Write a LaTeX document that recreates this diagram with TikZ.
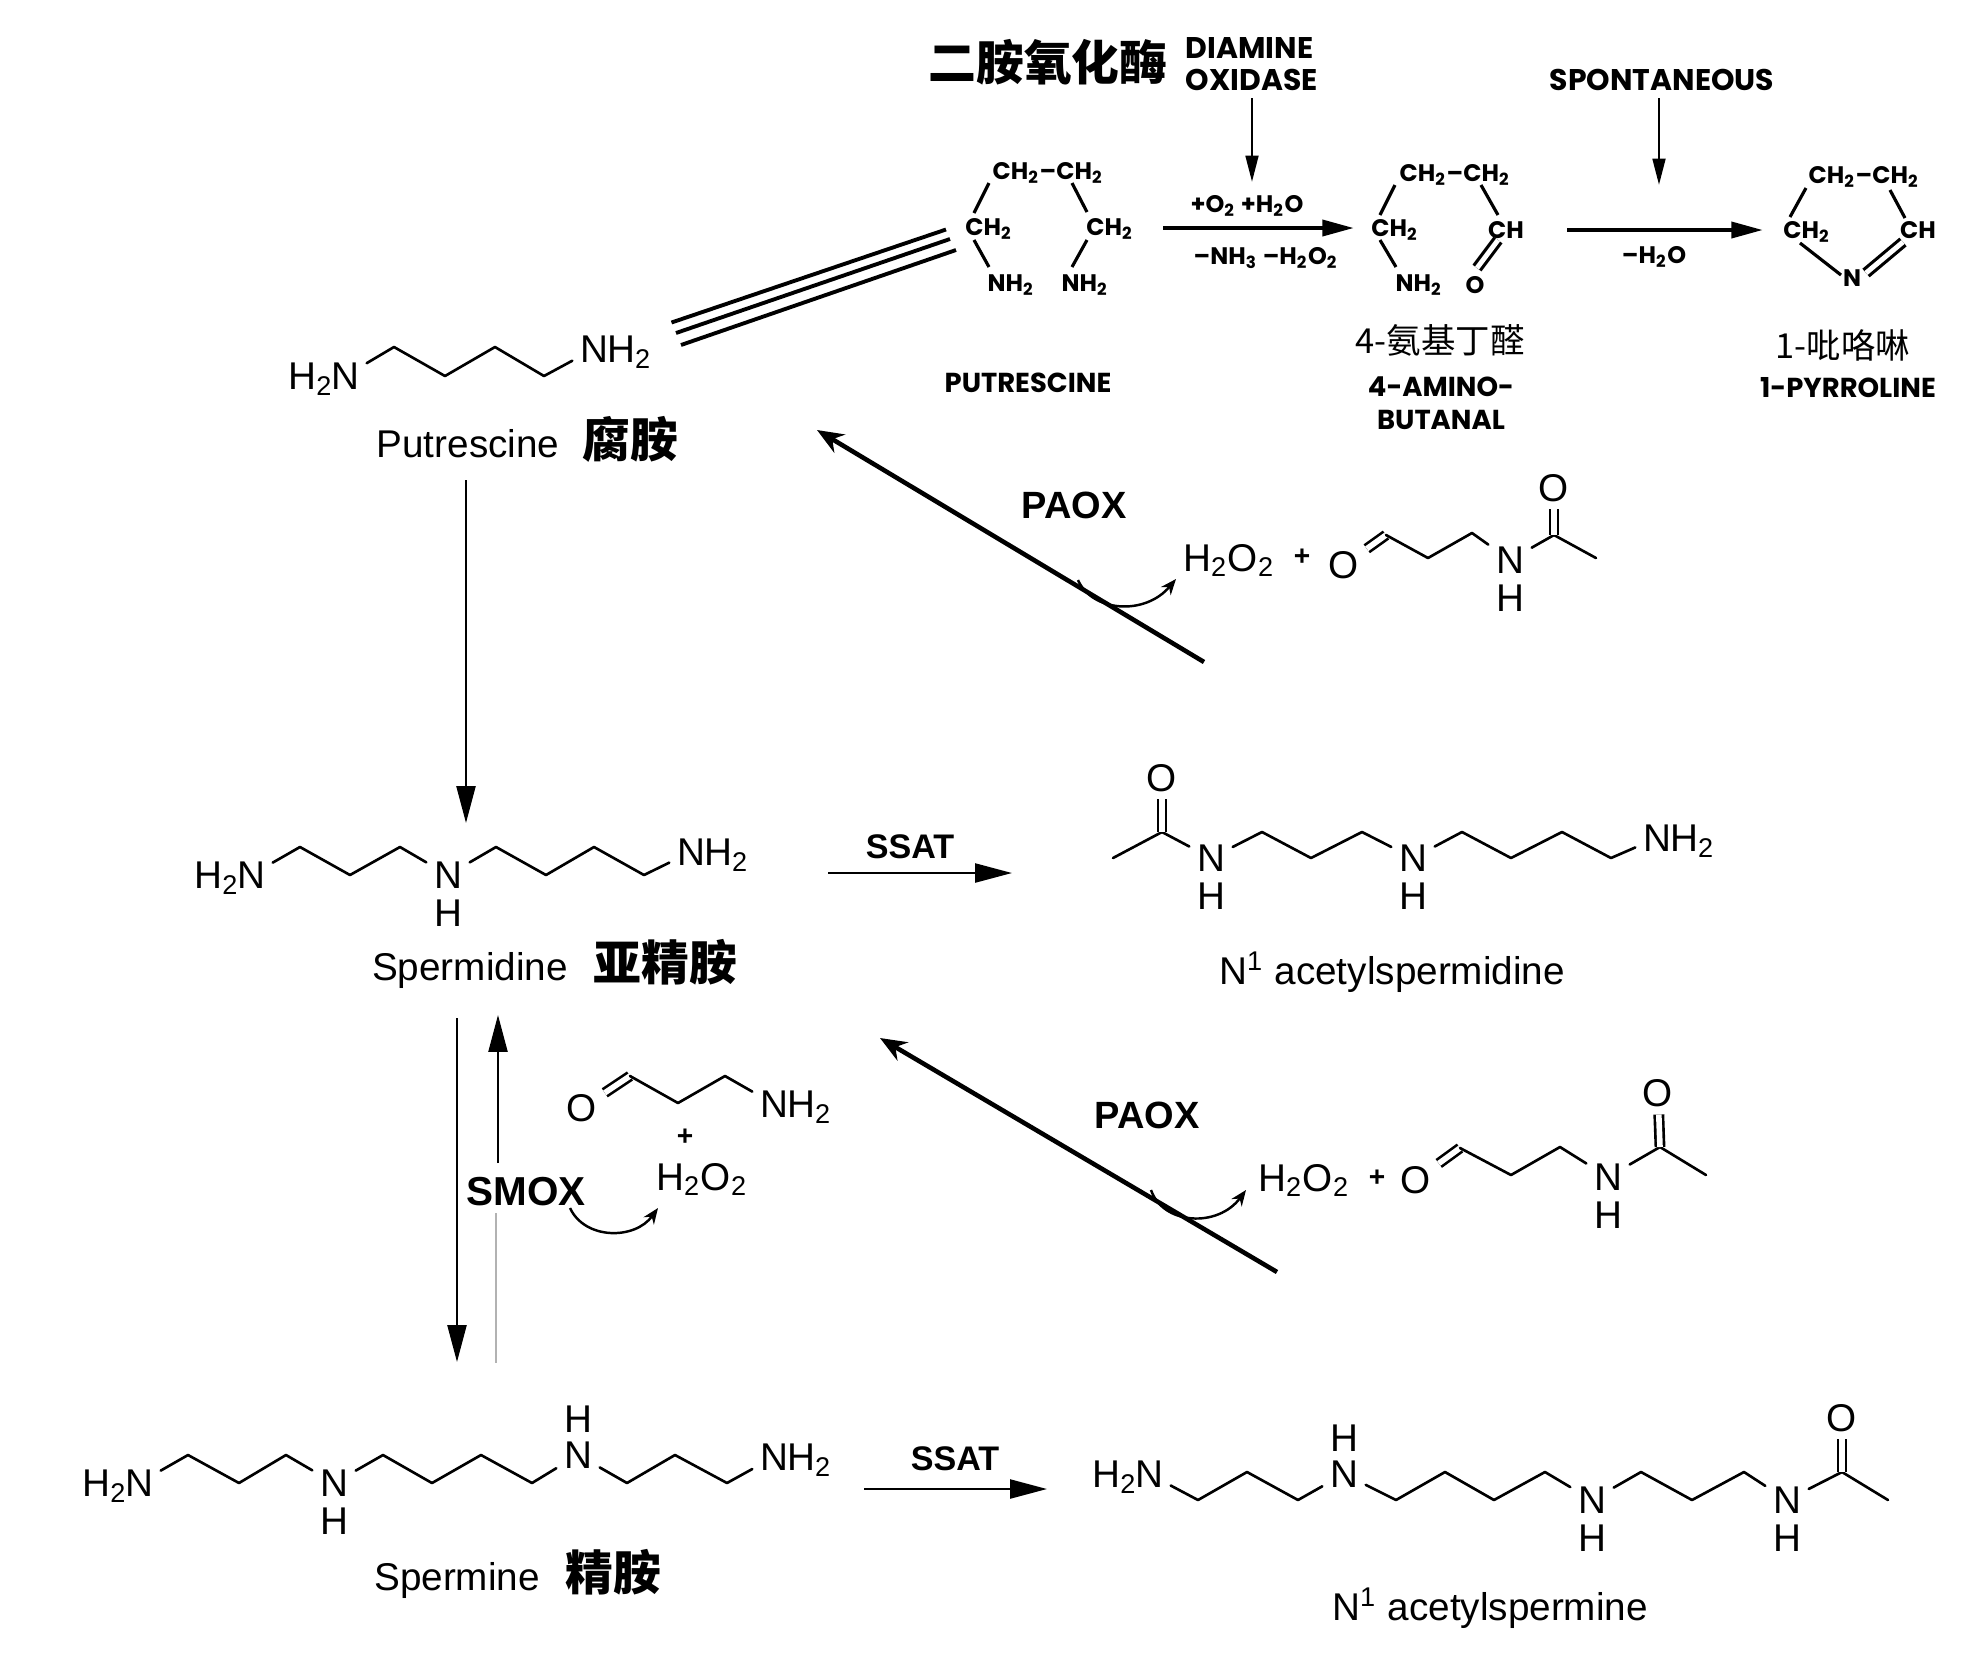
\documentclass[tikz,border=0pt]{standalone}
\usepackage{fontspec}
\setmainfont{Liberation Sans}
\newfontfamily\cjk{Noto Sans CJK SC}
\newfontfamily\oldsans{Poppins}
\usetikzlibrary{arrows.meta,positioning}

\tikzset{
  atom/.style={inner sep=2pt, font=\fontsize{11}{13}\selectfont},
  hyd/.style={inner sep=0pt, font=\fontsize{11}{13}\selectfont},
  molname/.style={inner sep=0pt, font=\fontsize{11}{13}\selectfont},
  cnname/.style={inner sep=0pt, font=\cjk\bfseries\fontsize{13.6}{16}\selectfont},
  cnsmall/.style={inner sep=0pt, font=\cjk\fontsize{9.8}{12}\selectfont},
  enzyme/.style={inner sep=0pt, font=\bfseries\fontsize{10.8}{13}\selectfont},
  plussign/.style={inner sep=0pt, font=\bfseries\fontsize{8}{9}\selectfont},
  oldcaps/.style={inner sep=0pt, font=\oldsans\bfseries\fontsize{8.5}{9.1}\selectfont},
  oldname/.style={inner sep=0pt, font=\oldsans\bfseries\fontsize{7.8}{9}\selectfont},
  oldform/.style={inner sep=0pt, font=\oldsans\bfseries\fontsize{6.8}{8}\selectfont},
  bond/.style={line width=0.75pt, line cap=round, line join=round},
  dbond/.style={line width=0.75pt, double, double distance=1.6pt},
  oldbond/.style={line width=0.9pt},
  tribond/.style={line width=1.1pt},
  rxn/.style={line width=0.65pt, -{Triangle[length=10.5pt,width=5.4pt]}},
  oxid/.style={line width=1.3pt, -{Stealth[length=7.5pt,width=6pt]}},
  push/.style={line width=0.7pt, -{Stealth[length=4.5pt,width=3.6pt]}},
  oldarrow/.style={line width=1.2pt, -{Triangle[length=9pt,width=4.5pt]}},
  olddown/.style={line width=0.8pt, -{Triangle[length=7.5pt,width=3.6pt]}},
}

\begin{document}
\begin{tikzpicture}[x=0.01cm, y=-0.01cm]
\fill[white] (0,0) rectangle (1968,1653);

% diamine oxidase route (top)
\node[cnname] (dao cn) at (1048,62) {二胺氧化酶};
\node[oldcaps, anchor=west, align=left] (dao) at (1185,64) {DIAMINE\\OXIDASE};
\node[oldcaps] (spont) at (1662,80) {SPONTANEOUS};
\coordinate (dao tip) at (1252,182);
\coordinate (spont tip) at (1659,185);
\draw[olddown, shorten <=2pt] (dao.south -| dao tip) -- (dao tip);
\draw[olddown, shorten <=2pt] (spont.south -| spont tip) -- (spont tip);

\node[oldform] (pt top) at (1048,173) {CH\textsubscript{2}–CH\textsubscript{2}};
\node[oldform] (pt cl) at (989,229) {CH\textsubscript{2}};
\node[oldform] (pt cr) at (1110,229) {CH\textsubscript{2}};
\node[oldform] (pt nl) at (1011,285) {NH\textsubscript{2}};
\node[oldform] (pt nr) at (1085,285) {NH\textsubscript{2}};
\draw[oldbond] (989,183) -- (974,213) (1072,183) -- (1087,212)
  (974,240) -- (989,267) (1087,240) -- (1072,267);
\node[oldname] (pt name) at (1028,383) {PUTRESCINE};

\coordinate (r1 a) at (1163,228);
\coordinate (r1 b) at (1354,228);
\draw[oldarrow] (r1 a) -- (r1 b);
\node[oldform] (r1 up) at (1247,206) {+O\textsubscript{2} +H\textsubscript{2}O};
\node[oldform] (r1 dn) at (1266,258) {–NH\textsubscript{3} –H\textsubscript{2}O\textsubscript{2}};

\node[oldform] (ab top) at (1455,175) {CH\textsubscript{2}–CH\textsubscript{2}};
\node[oldform] (ab cl) at (1395,230) {CH\textsubscript{2}};
\node[oldform] (ab cr) at (1506,230) {CH};
\node[oldform] (ab n) at (1419,285) {NH\textsubscript{2}};
\node[oldform] (ab o) at (1475,285) {O};
\draw[oldbond] (1395,185) -- (1380,215) (1481,185) -- (1498,215) (1380,240) -- (1396,267);
\draw[oldbond, double, double distance=1.4pt] (1498,240) -- (1477,268);
\node[cnsmall] (ab cn) at (1440,340) {4-氨基丁醛};
\node[oldname] (ab name1) at (1441,387) {4-AMINO-};
\node[oldname] (ab name2) at (1441,420) {BUTANAL};

\coordinate (r2 a) at (1567,230);
\coordinate (r2 b) at (1763,230);
\draw[oldarrow] (r2 a) -- (r2 b);
\node[oldform] (r2 dn) at (1654,257) {–H\textsubscript{2}O};

\node[oldform] (py top) at (1864,177) {CH\textsubscript{2}–CH\textsubscript{2}};
\node[oldform] (py cl) at (1807,232) {CH\textsubscript{2}};
\node[oldform] (py cr) at (1918,230) {CH};
\node[oldform] (py n) at (1852,278) {N};
\draw[oldbond] (1806,188) -- (1790,217) (1890,190) -- (1905,218) (1800,243) -- (1841,275);
\draw[oldbond, double, double distance=1.4pt] (1903,242) -- (1866,273);
\node[cnsmall] (py cn) at (1843,345) {1-吡咯啉};
\node[oldname] (py name) at (1848,388) {1-PYRROLINE};

% putrescine
\node[atom] (pu n1) at (345,376) {N};
\node[hyd, base left=-3pt of pu n1] (pu h1) {H\textsubscript{2}};
\coordinate (pu c1) at (394,347);
\coordinate (pu c2) at (445,376);
\coordinate (pu c3) at (495,347);
\coordinate (pu c4) at (544,376);
\node[atom] (pu n2) at (594,349) {N};
\node[hyd, base right=-2.6pt of pu n2] (pu h2) {H\textsubscript{2}};
\draw[bond] (pu n1) -- (pu c1) -- (pu c2) -- (pu c3) -- (pu c4) -- (pu n2);
\node[molname, anchor=base] (putr) at (468,457) {Putrescine};
\node[cnname, base right=6.3pt of putr] (putr cn) {腐胺};

\coordinate (tri a) at (676,333);
\coordinate (tri b) at (950,239);
\draw[tribond] ([shift={(-4.5,-10.5)}]tri a) -- ([shift={(-4,-9.5)}]tri b)
  (tri a) -- (tri b) ([shift={(5,12)}]tri a) -- ([shift={(6,11)}]tri b);

% spermidine
\node[atom] (sd n1) at (251,875) {N};
\node[hyd, base left=-3pt of sd n1] (sd h1) {H\textsubscript{2}};
\coordinate (sd c1) at (300,847);
\coordinate (sd c2) at (350,875);
\coordinate (sd c3) at (400,847);
\node[atom] (sd n2) at (448,875) {N};
\node[atom, below=-1.1pt of sd n2] (sd h2) {H};
\coordinate (sd c4) at (496,847);
\coordinate (sd c5) at (546,875);
\coordinate (sd c6) at (594,847);
\coordinate (sd c7) at (644,875);
\node[atom] (sd n3) at (691,852) {N};
\node[hyd, base right=-2.6pt of sd n3] (sd h3) {H\textsubscript{2}};
\draw[bond] (sd n1) -- (sd c1) -- (sd c2) -- (sd c3) -- (sd n2) -- (sd c4)
  -- (sd c5) -- (sd c6) -- (sd c7) -- (sd n3);
\node[molname, anchor=base] (spd) at (470,980) {Spermidine};
\node[cnname, base right=7pt of spd] (spd cn) {亚精胺};

\coordinate (pu out) at (466,480);
\coordinate (sd in) at (466,823);
\draw[rxn] (pu out) -- (sd in);

% N1-acetylspermidine
\coordinate (asd me) at (1113,858);
\coordinate (asd co) at (1162,832);
\node[atom] (asd o) at (1162,778) {O};
\node[atom] (asd n1) at (1211,858) {N};
\node[atom, below=-1.1pt of asd n1] (asd h1) {H};
\coordinate (asd c1) at (1262,832);
\coordinate (asd c2) at (1311,858);
\coordinate (asd c3) at (1362,832);
\node[atom] (asd n2) at (1413,858) {N};
\node[atom, below=-1.1pt of asd n2] (asd h2) {H};
\coordinate (asd c4) at (1462,832);
\coordinate (asd c5) at (1511,858);
\coordinate (asd c6) at (1562,832);
\coordinate (asd c7) at (1611,858);
\node[atom] (asd n3) at (1657,838) {N};
\node[hyd, base right=-2.6pt of asd n3] (asd h3) {H\textsubscript{2}};
\draw[bond] (asd me) -- (asd co) -- (asd n1) -- (asd c1) -- (asd c2) -- (asd c3)
  -- (asd n2) -- (asd c4) -- (asd c5) -- (asd c6) -- (asd c7) -- (asd n3);
\draw[dbond] (asd co) -- (asd o);
\node[molname, anchor=base] (acspd) at (1392,984) {N\textsuperscript{1} acetylspermidine};

\coordinate (ssat1 a) at (828,873);
\coordinate (ssat1 b) at (1012,873);
\draw[rxn] (ssat1 a) -- (ssat1 b);
\node[enzyme, anchor=base, font=\bfseries\fontsize{9.7}{12}\selectfont] (ssat1) at (910,858) {SSAT};

% PAOX, acetylspermidine -> putrescine
\coordinate (paox1 from) at (1204,662);
\coordinate (paox1 to) at (817,430);
\draw[oxid] (paox1 from) -- (paox1 to);
\node[enzyme, anchor=base] (paox1) at (1074,518) {PAOX};
\node[molname, anchor=base] (pa1 hp) at (1229,571) {H\textsubscript{2}O\textsubscript{2}};
\node[plussign] (pa1 plus) at (1302,557) {+};
\node[atom] (pa1 o) at (1344,565) {O};
\coordinate (pa1 c1) at (1386,535);
\coordinate (pa1 c2) at (1428,558);
\coordinate (pa1 c3) at (1472,533);
\node[atom] (pa1 n) at (1510,560) {N};
\node[atom, below=-1.1pt of pa1 n] (pa1 h) {H};
\coordinate (pa1 co) at (1554,535);
\node[atom] (pa1 o2) at (1554,488) {O};
\coordinate (pa1 me) at (1596,558);
\draw[dbond] (pa1 o) -- (pa1 c1);
\draw[bond] (pa1 c1) -- (pa1 c2) -- (pa1 c3) -- (pa1 n) -- (pa1 co) -- (pa1 me);
\draw[dbond] (pa1 co) -- (pa1 o2);
\coordinate (pa1 k) at (1078,580);
\coordinate (pa1 tip) at (1176,579);
\draw[push] (pa1 k) .. controls (1092,612) and (1145,616) .. (pa1 tip);

% spermine
\node[atom] (sm n1) at (139,1483) {N};
\node[hyd, base left=-3pt of sm n1] (sm h1) {H\textsubscript{2}};
\coordinate (sm c1) at (188,1455);
\coordinate (sm c2) at (239,1483);
\coordinate (sm c3) at (286,1455);
\node[atom] (sm n2) at (334,1483) {N};
\node[atom, below=-1.1pt of sm n2] (sm h2) {H};
\coordinate (sm c4) at (383,1455);
\coordinate (sm c5) at (432,1483);
\coordinate (sm c6) at (481,1455);
\coordinate (sm c7) at (532,1483);
\node[atom] (sm n3) at (578,1455) {N};
\node[atom, above=-1.9pt of sm n3] (sm h3) {H};
\coordinate (sm c8) at (627,1483);
\coordinate (sm c9) at (675,1455);
\coordinate (sm c10) at (727,1483);
\node[atom] (sm n4) at (774,1457) {N};
\node[hyd, base right=-2.6pt of sm n4] (sm h4) {H\textsubscript{2}};
\draw[bond] (sm n1) -- (sm c1) -- (sm c2) -- (sm c3) -- (sm n2) -- (sm c4) -- (sm c5)
  -- (sm c6) -- (sm c7) -- (sm n3) -- (sm c8) -- (sm c9) -- (sm c10) -- (sm n4);
\node[molname, anchor=base] (spm) at (457,1590) {Spermine};
\node[cnname, base right=7pt of spm] (spm cn) {精胺};

\coordinate (sd out) at (457,1018);
\coordinate (sm in) at (457,1362);
\draw[rxn] (sd out) -- (sm in);
\coordinate (sm out) at (498,1163);
\coordinate (sd back) at (498,1015);
\draw[rxn] (sm out) -- (sd back);
\coordinate (sm gray a) at (496,1213);
\coordinate (sm gray b) at (496,1363);
\draw[gray!60, line width=0.4pt] (sm gray a) -- (sm gray b);

% SMOX products
\node[enzyme, anchor=base, font=\bfseries\fontsize{11.5}{13}\selectfont] (smox) at (526,1205) {SMOX};
\node[atom] (ap o) at (582,1108) {O};
\coordinate (ap c1) at (630,1076);
\coordinate (ap c2) at (678,1103);
\coordinate (ap c3) at (725,1076);
\node[atom] (ap n) at (774,1104) {N};
\node[hyd, base right=-2.6pt of ap n] (ap h) {H\textsubscript{2}};
\draw[dbond] (ap o) -- (ap c1);
\draw[bond] (ap c1) -- (ap c2) -- (ap c3) -- (ap n);
\node[plussign] (ap plus) at (685,1137) {+};
\node[molname, anchor=base] (ap hp) at (702,1190) {H\textsubscript{2}O\textsubscript{2}};
\coordinate (smox k) at (570,1208);
\coordinate (smox tip) at (658,1208);
\draw[push] (smox k) .. controls (585,1240) and (635,1240) .. (smox tip);

% PAOX, acetylspermine -> spermidine
\coordinate (paox2 from) at (1277,1272);
\coordinate (paox2 to) at (880,1038);
\draw[oxid] (paox2 from) -- (paox2 to);
\node[enzyme, anchor=base] (paox2) at (1147,1128) {PAOX};
\node[molname, anchor=base] (pa2 hp) at (1304,1191) {H\textsubscript{2}O\textsubscript{2}};
\node[plussign] (pa2 plus) at (1377,1178) {+};
\node[atom] (pa2 o) at (1416,1180) {O};
\coordinate (pa2 c1) at (1460,1148);
\coordinate (pa2 c2) at (1511,1175);
\coordinate (pa2 c3) at (1560,1147);
\node[atom] (pa2 n) at (1608,1177) {N};
\node[atom, below=-1.1pt of pa2 n] (pa2 h) {H};
\coordinate (pa2 co) at (1660,1147);
\node[atom] (pa2 o2) at (1658,1093) {O};
\coordinate (pa2 me) at (1706,1175);
\draw[dbond] (pa2 o) -- (pa2 c1);
\draw[bond] (pa2 c1) -- (pa2 c2) -- (pa2 c3) -- (pa2 n) -- (pa2 co) -- (pa2 me);
\draw[dbond] (pa2 co) -- (pa2 o2);
\coordinate (pa2 k) at (1151,1190);
\coordinate (pa2 tip) at (1246,1190);
\draw[push] (pa2 k) .. controls (1163,1225) and (1218,1228) .. (pa2 tip);

% N1-acetylspermine
\node[atom] (asm n1) at (1149,1474) {N};
\node[hyd, base left=-3pt of asm n1] (asm h1) {H\textsubscript{2}};
\coordinate (asm c1) at (1198,1500);
\coordinate (asm c2) at (1247,1472);
\coordinate (asm c3) at (1298,1500);
\node[atom] (asm n2) at (1344,1474) {N};
\node[atom, above=-1.9pt of asm n2] (asm h2) {H};
\coordinate (asm c4) at (1396,1500);
\coordinate (asm c5) at (1445,1472);
\coordinate (asm c6) at (1494,1500);
\coordinate (asm c7) at (1545,1472);
\node[atom] (asm n3) at (1592,1500) {N};
\node[atom, below=-1.1pt of asm n3] (asm h3) {H};
\coordinate (asm c8) at (1641,1472);
\coordinate (asm c9) at (1692,1500);
\coordinate (asm c10) at (1744,1472);
\node[atom] (asm n4) at (1787,1500) {N};
\node[atom, below=-1.1pt of asm n4] (asm h4) {H};
\coordinate (asm co) at (1842,1472);
\node[atom] (asm o) at (1842,1418) {O};
\coordinate (asm me) at (1888,1500);
\draw[bond] (asm n1) -- (asm c1) -- (asm c2) -- (asm c3) -- (asm n2) -- (asm c4) -- (asm c5)
  -- (asm c6) -- (asm c7) -- (asm n3) -- (asm c8) -- (asm c9) -- (asm c10) -- (asm n4)
  -- (asm co) -- (asm me);
\draw[dbond] (asm co) -- (asm o);
\node[molname, anchor=base] (acspm) at (1490,1620) {N\textsuperscript{1} acetylspermine};

\coordinate (ssat2 a) at (864,1489);
\coordinate (ssat2 b) at (1047,1489);
\draw[rxn] (ssat2 a) -- (ssat2 b);
\node[enzyme, anchor=base, font=\bfseries\fontsize{9.7}{12}\selectfont] (ssat2) at (955,1470) {SSAT};
\end{tikzpicture}
\end{document}
